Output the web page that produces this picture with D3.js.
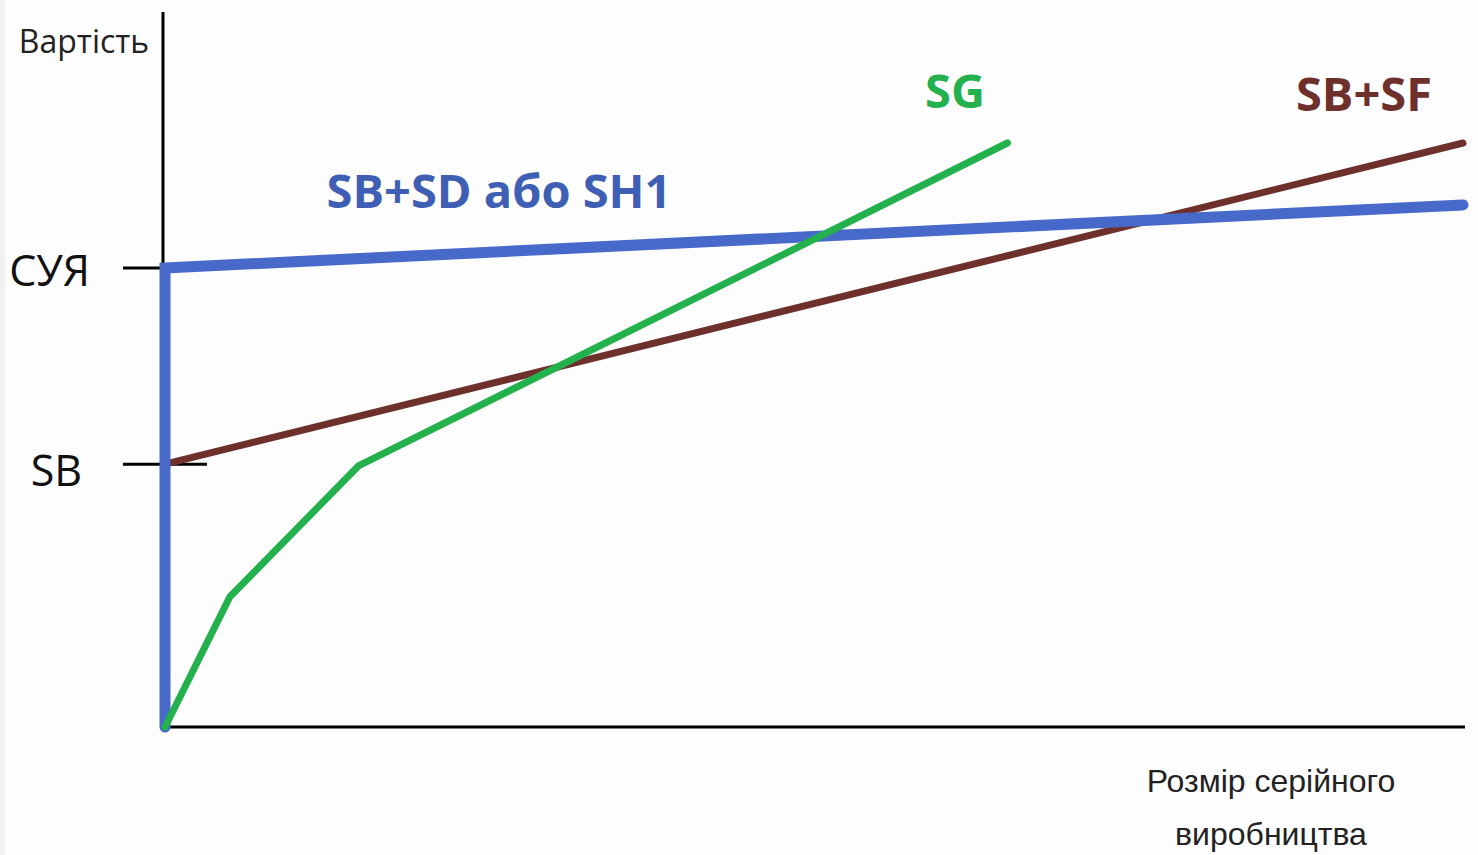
<!DOCTYPE html>
<html>
<head>
<meta charset="utf-8">
<script src="https://cdn.jsdelivr.net/npm/d3@7"></script>
<style>
  body { margin: 0; background: #fdfdfd; }
  svg { display: block; }
</style>
</head>
<body>
<svg id="chart"></svg>
<script>
// chart values (abstract units: x 0..100, y 0..100)
var blueX = [0, 0, 100];
var blueY = [0, 78.6, 89.4];
var greenX = [0, 5.0, 14.9, 64.9];
var greenY = [0, 22.3, 44.7, 100];
var brownX = [0, 100];
var brownY = [45.0, 100];
var tickValues = [78.6, 45.0];
var tickLabels = ["СУЯ", "SB"];

var width = 1478, height = 855;

var x = d3.scaleLinear().domain([0, 100]).range([165, 1463]);
var y = d3.scaleLinear().domain([0, 100]).range([727, 143]);

var svg = d3.select("#chart")
    .attr("width", width)
    .attr("height", height);

// light strip at the left edge
svg.append("rect")
    .attr("x", 0).attr("y", 0)
    .attr("width", 5).attr("height", height)
    .attr("fill", "#f0f0f0");

// axes
svg.append("line")
    .attr("x1", 163).attr("x2", 163)
    .attr("y1", 12).attr("y2", y(0))
    .attr("stroke", "#000").attr("stroke-width", 3);
svg.append("line")
    .attr("x1", 163).attr("x2", 1465)
    .attr("y1", y(0)).attr("y2", y(0))
    .attr("stroke", "#000").attr("stroke-width", 3);

// ticks and tick labels
var labelRight = [90, 82];
var labelShift = [3, 6];
tickValues.forEach(function(v, i) {
  svg.append("line")
      .attr("x1", 123).attr("x2", i == 1 ? 207 : 163)
      .attr("y1", y(v)).attr("y2", y(v))
      .attr("stroke", "#000").attr("stroke-width", 3);
  svg.append("text")
      .attr("x", labelRight[i])
      .attr("y", y(v) + labelShift[i])
      .attr("dy", "0.36em")
      .attr("text-anchor", "end")
      .style("font-family", "'Open Sans'")
      .style("font-size", "43px")
      .attr("fill", "#111")
      .text(tickLabels[i]);
});

var line = d3.line()
    .x(function(d) { return x(d[0]); })
    .y(function(d) { return y(d[1]); });

function pts(xs, ys) { return xs.map(function(v, i) { return [v, ys[i]]; }); }

// brown SB+SF
svg.append("path")
    .datum(pts(brownX, brownY))
    .attr("fill", "none")
    .attr("stroke", "#6e302b")
    .attr("stroke-width", 7)
    .attr("stroke-linecap", "round")
    .attr("d", line);

// blue SB+SD
svg.append("path")
    .datum(pts(blueX, blueY))
    .attr("fill", "none")
    .attr("stroke", "#4769c9")
    .attr("stroke-width", 11)
    .attr("stroke-linecap", "round")
    .attr("stroke-linejoin", "miter")
    .attr("d", line);

// green SG
svg.append("path")
    .datum(pts(greenX, greenY))
    .attr("fill", "none")
    .attr("stroke", "#22b14c")
    .attr("stroke-width", 7)
    .attr("stroke-linecap", "round")
    .attr("stroke-linejoin", "round")
    .attr("d", line);

// series labels
var labels = [
  {t: "SG", x: 955, y: 108, c: "#22b14c"},
  {t: "SB+SF", x: 1364, y: 111, c: "#6e302b"},
  {t: "SB+SD або SH1", x: 499, y: 208, c: "#3f5fb5"}
];
svg.selectAll(".lbl")
    .data(labels).enter()
    .append("text")
    .attr("class", "lbl")
    .attr("x", function(d) { return d.x; })
    .attr("y", function(d) { return d.y; })
    .attr("text-anchor", "middle")
    .style("font-family", "'Open Sans'")
    .style("font-weight", "bold")
    .style("font-size", "47px")
    .attr("fill", function(d) { return d.c; })
    .text(function(d) { return d.t; });

// axis titles
svg.append("text")
    .attr("x", 84).attr("y", 53)
    .attr("text-anchor", "middle")
    .style("font-family", "'Open Sans'")
    .style("font-size", "32px")
    .attr("fill", "#222")
    .text("Вартість");

svg.append("text")
    .attr("x", 1271).attr("y", 792)
    .attr("text-anchor", "middle")
    .style("font-family", "'Liberation Sans'")
    .style("font-size", "32px")
    .attr("fill", "#222")
    .text("Розмір серійного");
svg.append("text")
    .attr("x", 1271).attr("y", 845)
    .attr("text-anchor", "middle")
    .style("font-family", "'Liberation Sans'")
    .style("font-size", "32px")
    .attr("fill", "#222")
    .text("виробництва");
</script>
</body>
</html>
